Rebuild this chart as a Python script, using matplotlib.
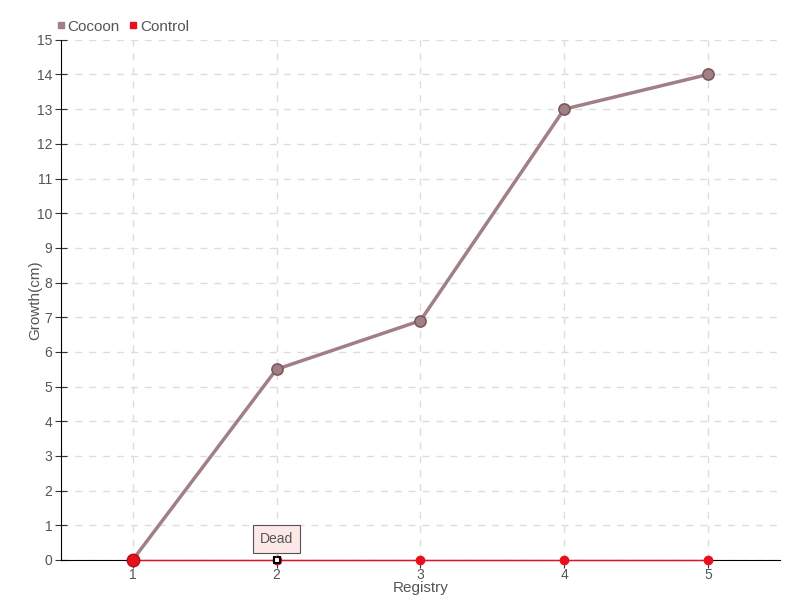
import matplotlib
import numpy as np
from matplotlib import pyplot as plt
from matplotlib.lines import Line2D

matplotlib.use("Agg")

plt.rcParams["font.family"] = ["Liberation Sans", "DejaVu Sans"]

registry = [1, 2, 3, 4, 5]
cocoon = [0, 5.5, 6.9, 13, 14]
control = [0, 0, 0, 0, 0]
y_ticks = list(range(0, 16))

COCOON = "#a08085"
COCOON_EDGE = "#7a5a60"
CONTROL = "#e8101e"
TEXT = "#555555"

fig = plt.figure(figsize=(8, 6), dpi=100)
ax = fig.add_axes([0.076, 0.0667, 0.899, 0.867])

ax.plot(registry, cocoon, color=COCOON, lw=2.5, marker="o", ms=8,
        mfc=COCOON, mec=COCOON_EDGE, mew=1.2, zorder=3, label="Cocoon")
ax.plot(registry, control, color=CONTROL, lw=1, marker="o", ms=6,
        mfc=CONTROL, mec=CONTROL, zorder=4, label="Control", clip_on=False)
# first point highlighted
ax.plot(registry[0], control[0], "o", ms=9, mfc=CONTROL, mec="#b01018",
        zorder=5, clip_on=False)

# "Dead" marker and tooltip
ax.plot(registry[1], control[1], "s", ms=5, mfc="white", mec="black", mew=1.5,
        zorder=6, clip_on=False)
ax.annotate("Dead", xy=(registry[1], control[1]), xytext=(0, 15),
            textcoords="offset points", ha="center", va="center",
            fontsize=10, color=TEXT,
            bbox=dict(boxstyle="square,pad=0.5", fc="#fde8e8", ec="#555555", lw=0.8),
            arrowprops=dict(arrowstyle="-", color="#555555", lw=0.8), zorder=7)

ax.set_xlim(0.5, 5.5)
ax.set_ylim(0, 15)
ax.set_xticks(registry)
ax.set_yticks(y_ticks)
ax.tick_params(labelsize=10, color="#333333", labelcolor=TEXT)
ax.tick_params(axis="y", direction="inout", length=8, pad=2)
ax.tick_params(axis="x", direction="out", length=6, pad=0)

ax.grid(True, color="#dddddd", linestyle=(0, (5, 5)), lw=1)
ax.set_axisbelow(True)
for side in ["top", "right"]:
    ax.spines[side].set_visible(False)
ax.spines["left"].set_color("black")
ax.spines["bottom"].set_color("black")

ax.set_xlabel("Registry", color=TEXT, fontsize=11, labelpad=-1)
ax.set_ylabel("Growth(cm)", color=TEXT, fontsize=11, labelpad=-4)

handles = [Line2D([], [], ls="none", marker="s", ms=4, color=COCOON),
           Line2D([], [], ls="none", marker="s", ms=4, color=CONTROL)]
fig.legend(handles, ["Cocoon", "Control"], loc="upper left",
           bbox_to_anchor=(0.054, 0.99), ncol=2, frameon=False,
           handlelength=0.5, handletextpad=0.2, columnspacing=0.6,
           fontsize=11, labelcolor=TEXT)

fig.savefig("out.png", dpi=100)
